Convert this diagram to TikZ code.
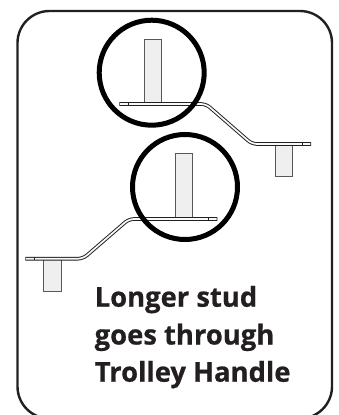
\documentclass[tikz,border=0pt]{standalone}
\usepackage{fontspec}
\setmainfont{Open Sans}
\newfontfamily\capfont[FakeBold=0.6,Scale=1]{Open Sans Bold}
\definecolor{ink}{HTML}{231F20}
\definecolor{studfill}{HTML}{EFEFEF}
\tikzset{
  framebox/.style={draw=ink,line width=2.4pt,rounded corners=32pt,fill=white},
  ringmark/.style={draw=black,line width=5pt},
  studbox/.style={draw=ink!75,line width=0.8pt,fill=studfill},
  plateout/.style={draw=ink,line width=3.6pt,line cap=butt,rounded corners=5pt},
  platein/.style={draw=studfill!40,line width=1.7pt,line cap=butt,rounded corners=5pt},
  tick/.style={draw=ink,line width=0.5pt},
  caption/.style={anchor=base west,inner sep=0pt,text=ink,font=\capfont\fontsize{27.4}{30}\selectfont}
}
\begin{document}
\begin{tikzpicture}[x=1pt,y=-1pt]
\useasboundingbox (0,0) rectangle (339,415);
\begin{scope}
\clip (0,0) rectangle (339,415);
\draw[framebox] (17.5,11) rectangle (332,418.5);
\end{scope}
% upper bracket
\draw[studbox] (144.3,39.3) rectangle (161.7,103);
\draw[studbox] (275.7,145) rectangle (292.7,176.3);
\draw[plateout] (119.3,104) -- (206,104) -- (252,144) -- (311,144);
\draw[platein] (120,104) -- (206,104) -- (252,144) -- (310.3,144);
\draw[tick] (128,102.4) -- (128,105.6) (302,142.4) -- (302,145.6);
% lower bracket
\draw[studbox] (175.3,153.3) rectangle (192.7,218);
\draw[studbox] (43.7,259) rectangle (61.7,291);
\draw[plateout] (217.3,219) -- (129,219) -- (83,258.7) -- (25.3,258.7);
\draw[platein] (216.6,219) -- (129,219) -- (83,258.7) -- (26,258.7);
\draw[tick] (208.5,217.4) -- (208.5,220.6) (34,257.1) -- (34,260.3);
% rings
\draw[ringmark] (151.7,72.7) circle (52.5);
\draw[ringmark] (185,187) circle (52.5);
% caption
\node[caption] (l1) at (94.5,306.7) {Longer stud};
\node[caption] (l2) at (94.5,344.5) {goes through};
\node[caption] (l3) at (94.5,381.7) {Trolley Handle};
\end{tikzpicture}
\end{document}
